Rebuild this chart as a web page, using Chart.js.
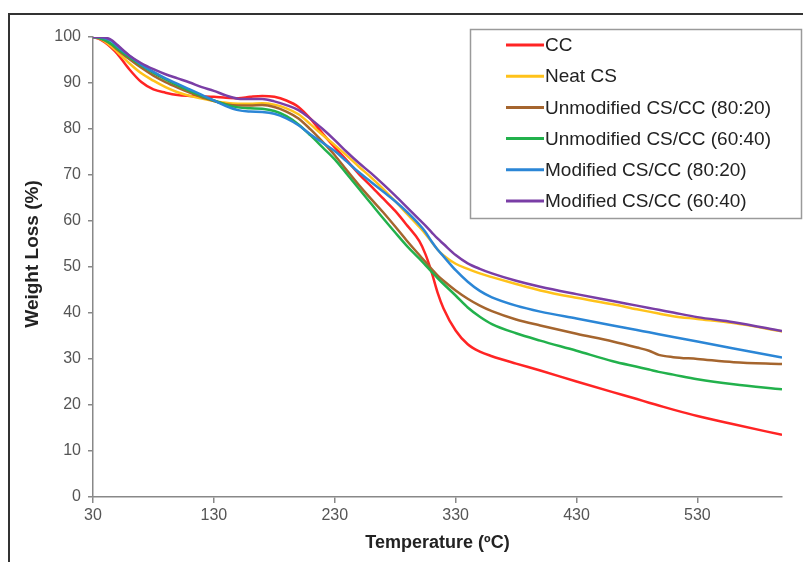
<!DOCTYPE html>
<html>
<head>
<meta charset="utf-8">
<script src="https://cdn.jsdelivr.net/npm/chart.js@4.4.1/dist/chart.umd.min.js"></script>
<style>
  html, body { margin: 0; padding: 0; background: #fff; }
  #wrap { position: relative; width: 803px; height: 562px; overflow: hidden; background: #fff; }
  #frame { position: absolute; left: 8px; top: 13px; width: 900px; height: 700px;
           border-top: 2px solid #333; border-left: 2px solid #333; box-sizing: border-box; }
  #c { position: absolute; left: 0; top: 0; }
</style>
</head>
<body>
<div id="wrap">
  <div id="frame"></div>
  <canvas id="c" width="803" height="562"></canvas>
</div>
<script>
// ---- data ----
const temperatures = [30, 35, 40, 45, 50, 60, 70, 80, 90, 100, 110, 120, 130, 140, 150, 160, 170, 180, 190, 200,
  210, 220, 230, 240, 250, 260, 270, 280, 290, 300, 305, 310, 315, 320, 330, 340, 350, 360, 380, 400,
  430, 460, 480, 490, 498, 510, 530, 560, 600];

const seriesLabels = ["CC", "Neat CS", "Unmodified CS/CC (80:20)", "Unmodified CS/CC (60:40)",
  "Modified CS/CC (80:20)", "Modified CS/CC (60:40)"];

const cc = [100, 99.6, 98.8, 97.7, 96.4, 93, 90.2, 88.6, 87.9, 87.4, 87.2, 87.1, 87, 86.8, 86.7, 87, 87.2, 87, 86.2, 84.8,
  82.2, 79, 76, 73.2, 70.2, 67.6, 64.9, 62.2, 59, 55.6, 52.8, 49, 44.5, 41, 36.2, 33.2, 31.6, 30.6, 29, 27.5,
  25.1, 22.8, 21.3, 20.5, 19.9, 19, 17.6, 15.8, 13.5];

const neatCS = [100, 99.7, 99, 98, 96.8, 94.3, 92.1, 90.5, 89.1, 88, 87.2, 86.6, 86.1, 85.7, 85.5, 85.5, 85.6, 85.3, 84.5, 83.2,
  81, 78.7, 76.5, 74.2, 71.8, 69.5, 67, 64.3, 61.5, 58.7, 57.2, 55.5, 53.8, 52.5, 50.7, 49.6, 48.6, 47.8, 46.3, 44.9,
  43.3, 41.9, 40.8, 40.3, 39.9, 39.3, 38.7, 37.8, 36];

const unmod8020 = [100, 99.8, 99.2, 98.4, 97.3, 95.2, 93.3, 91.6, 90.2, 89, 87.9, 86.9, 86.1, 85.4, 85.1, 85.1, 85.2, 84.8, 83.8, 82.3,
  79.9, 77.2, 74.3, 71, 67.8, 64.8, 61.9, 58.8, 55.6, 52.6, 51.1, 49.6, 48.2, 47, 44.9, 43.1, 41.6, 40.4, 38.6, 37.3,
  35.5, 33.8, 32.5, 31.8, 30.9, 30.4, 30, 29.3, 28.9];

const unmod6040 = [100, 99.8, 99.3, 98.5, 97.5, 95.6, 93.8, 92.2, 90.8, 89.5, 88.3, 87.2, 86.2, 85.3, 84.7, 84.5, 84.4, 83.9, 82.8, 81,
  78.6, 76, 73.4, 70.2, 67, 63.8, 60.6, 57.5, 54.5, 51.8, 50.4, 49, 47.6, 46.3, 43.8, 41.2, 39.2, 37.6, 35.6, 34,
  31.8, 29.5, 28.3, 27.7, 27.2, 26.6, 25.6, 24.5, 23.4];

const mod8020 = [100, 100, 99.7, 99.2, 98, 95.9, 94, 92.4, 91, 89.8, 88.6, 87.4, 86.2, 85, 84.1, 83.8, 83.7, 83.3, 82.3, 80.8,
  78.8, 77, 75.2, 72.9, 70.6, 68.5, 66.4, 64.3, 61.9, 59.2, 57.6, 55.6, 53.8, 52.3, 49.3, 46.8, 44.8, 43.4, 41.6, 40.3,
  38.8, 37.3, 36.3, 35.8, 35.4, 34.8, 33.8, 32.3, 30.3];

const mod6040 = [100, 100, 99.9, 99.4, 98.3, 96, 94.3, 93, 91.9, 91, 90.1, 89.1, 88.3, 87.3, 86.6, 86.5, 86.5, 86, 85.2, 84.1,
  82.2, 80, 77.6, 75, 72.6, 70.4, 68, 65.5, 62.9, 60.3, 59, 57.6, 56.2, 55, 52.6, 50.8, 49.6, 48.6, 47, 45.7,
  44.1, 42.6, 41.6, 41.1, 40.7, 40.1, 39.1, 38, 36.1];

const xTickValues = [30, 130, 230, 330, 430, 530];
const yTickValues = [0, 10, 20, 30, 40, 50, 60, 70, 80, 90, 100];
const xTitle = 'Temperature (ºC)';
const yTitle = 'Weight Loss (%)';

const seriesValues = [cc, neatCS, unmod8020, unmod6040, mod8020, mod6040];
const seriesColors = ["#FF2424", "#FFC21A", "#A5652E", "#22B14C", "#2B86D6", "#7A3EA6"];

const FONT = '"Liberation Sans", Arial, sans-serif';

// ---- chart ----
const datasets = seriesValues.map((vals, i) => ({
  label: seriesLabels[i],
  data: temperatures.map((t, k) => ({ x: t, y: vals[k] })),
  borderColor: seriesColors[i],
  backgroundColor: seriesColors[i],
  borderWidth: 2.5,
  pointRadius: 0,
  fill: false,
  cubicInterpolationMode: 'monotone',
  order: seriesValues.length - i
}));

const boxLegend = {
  id: 'boxLegend',
  afterDraw(chart) {
    const ctx = chart.ctx;
    ctx.save();
    // y-axis title
    ctx.fillStyle = '#222';
    ctx.font = 'bold 19px ' + FONT;
    ctx.textAlign = 'center';
    ctx.textBaseline = 'middle';
    ctx.translate(33, 254);
    ctx.rotate(-Math.PI / 2);
    ctx.fillText(yTitle, 0, 0);
    ctx.setTransform(1, 0, 0, 1, 0, 0);
    // legend box
    ctx.fillStyle = '#fff';
    ctx.strokeStyle = '#9a9a9a';
    ctx.lineWidth = 1.5;
    ctx.fillRect(470.5, 29.5, 331, 189);
    ctx.strokeRect(470.5, 29.5, 331, 189);
    ctx.font = '19px ' + FONT;
    ctx.textBaseline = 'middle';
    ctx.textAlign = 'left';
    chart.data.datasets.forEach((ds, i) => {
      const y = 45 + i * 31.2;
      ctx.strokeStyle = ds.borderColor;
      ctx.lineWidth = 3;
      ctx.beginPath();
      ctx.moveTo(506, y);
      ctx.lineTo(544, y);
      ctx.stroke();
      ctx.fillStyle = '#222';
      ctx.fillText(ds.label, 545, y + 1);
    });
    ctx.restore();
  }
};

new Chart(document.getElementById('c'), {
  type: 'line',
  data: { datasets },
  options: {
    responsive: false,
    animation: false,
    layout: { padding: { left: 0, top: 37, right: 21, bottom: 0 } },
    plugins: { legend: { display: false }, tooltip: { enabled: false } },
    scales: {
      x: {
        type: 'linear',
        min: 30, max: 600,
        afterBuildTicks: (axis) => { axis.ticks = xTickValues.map(v => ({ value: v })); },
        afterFit: (axis) => { axis.height = 65; },
        grid: { drawOnChartArea: false, drawTicks: true, tickLength: 6, color: '#888', lineWidth: 1.5 },
        border: { color: '#888', width: 1.5 },
        ticks: { color: '#555', font: { family: FONT, size: 16 }, padding: 3, maxRotation: 0 },
        title: { display: true, text: xTitle, color: '#222',
                 font: { family: FONT, size: 18, weight: 'bold', lineHeight: 1.2 },
                 padding: { top: 0, bottom: 8 } }
      },
      y: {
        type: 'linear',
        min: 0, max: 100,
        afterBuildTicks: (axis) => { axis.ticks = yTickValues.map(v => ({ value: v })); },
        afterFit: (axis) => { axis.width = 93; },
        grid: { drawOnChartArea: false, drawTicks: true, tickLength: 5, color: '#888', lineWidth: 1.5 },
        border: { color: '#888', width: 1.5 },
        ticks: { color: '#555', font: { family: FONT, size: 16 }, padding: 7 },
        title: { display: false }
      }
    }
  },
  plugins: [boxLegend]
});
</script>
</body>
</html>
